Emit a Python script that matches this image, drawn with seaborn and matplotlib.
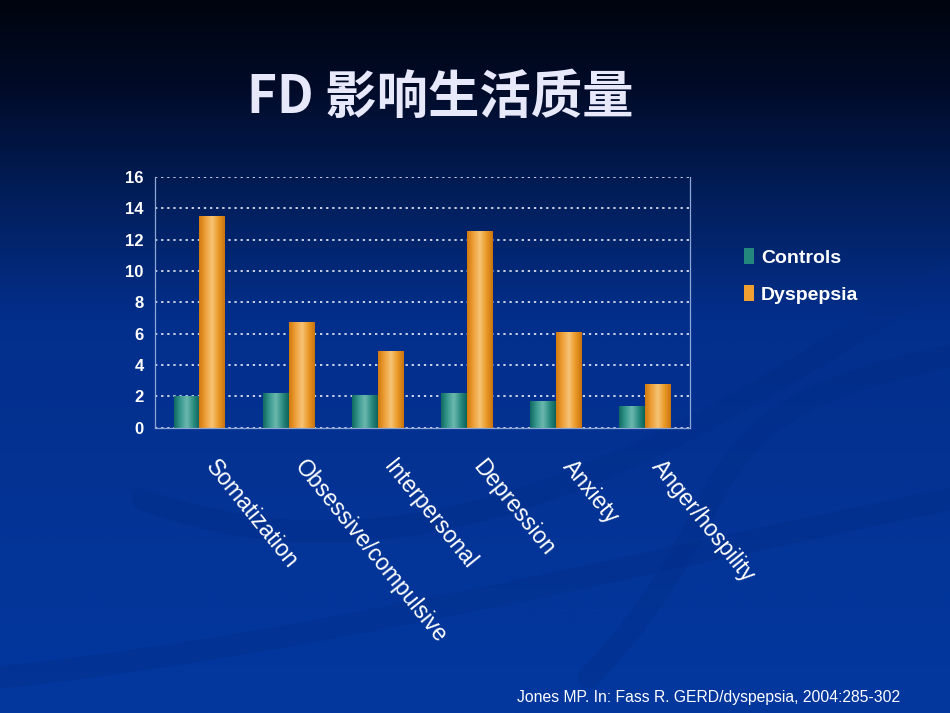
import numpy as np
import pandas as pd
import matplotlib
matplotlib.use("Agg")
import matplotlib.pyplot as plt
import matplotlib.transforms as mtrans
from matplotlib.path import Path
from matplotlib.patches import PathPatch
from matplotlib.colors import LinearSegmentedColormap, to_rgb
import seaborn as sns

# ------------------------------------
# Data
# ------------------------------------
categories = ["Somatization", "Obsessive/compulsive", "Interpersonal",
              "Depression", "Anxiety", "Anger/hospility"]
controls = [2.0, 2.2, 2.1, 2.2, 1.7, 1.4]
dyspepsia = [13.5, 6.7, 4.9, 12.5, 6.1, 2.75]
series = ["Controls", "Dyspepsia"]
y_ticks = [0, 2, 4, 6, 8, 10, 12, 14, 16]

title = "FD 影响生活质量"
source = "Jones MP. In: Fass R. GERD/dyspepsia, 2004:285-302"

TEAL = "#23877e"
ORANGE = "#f0a030"

df = pd.DataFrame({
    "category": categories * 2,
    "group": [series[0]] * len(controls) + [series[1]] * len(dyspepsia),
    "value": controls + dyspepsia,
})

sns.set_theme(style="white")
plt.rcParams["font.family"] = ["Liberation Sans", "DejaVu Sans"]

fig = plt.figure(figsize=(9.5, 7.13), dpi=100)

# ------------------------------------
# Slide background: dark-to-blue gradient + faint swooshes
# ------------------------------------
bg = fig.add_axes([0, 0, 1, 1], zorder=-10)
bg_cmap = LinearSegmentedColormap.from_list(
    "bg", [(0, "#00040e"), (0.12, "#010b28"), (0.28, "#021f5c"),
           (0.45, "#032f8c"), (1, "#03389f")])
bg.imshow(np.linspace(0, 1, 256).reshape(-1, 1), aspect="auto", cmap=bg_cmap,
          extent=[0, 1, 0, 1], origin="upper")
swooshes = [
    [(0.0, 0.05), (0.35, 0.10), (0.70, 0.22), (1.0, 0.30)],
    [(0.15, 0.30), (0.45, 0.15), (0.75, 0.40), (1.0, 0.62)],
    [(0.62, 0.05), (0.80, 0.30), (0.70, 0.42), (1.0, 0.50)],
]
for pts in swooshes:
    path = Path(pts, [Path.MOVETO, Path.CURVE4, Path.CURVE4, Path.CURVE4])
    bg.add_patch(PathPatch(path, fill=False, lw=16, color="#022c84", alpha=0.3,
                           capstyle="round"))
bg.set_xlim(0, 1)
bg.set_ylim(0, 1)
bg.axis("off")

# ------------------------------------
# Bar chart
# ------------------------------------
ax = fig.add_axes([0.163, 0.40, 0.563, 0.352])
ax.patch.set_alpha(0)
sns.barplot(data=df, x="category", y="value", hue="group",
            palette=[TEAL, ORANGE], saturation=1, width=0.58,
            edgecolor="none", ax=ax)

# cylinder-like shading on each bar
teal_cmap = LinearSegmentedColormap.from_list(
    "teal", ["#0e6a62", "#3a9a90", "#6cb8ad", "#2d8d83", "#0c625a"])
orange_cmap = LinearSegmentedColormap.from_list(
    "orange", ["#d27a0e", "#eea03a", "#f6c476", "#eb9a28", "#c9740e"])
for p in list(ax.patches):
    w, h = p.get_width(), p.get_height()
    if h <= 0:
        continue
    x0, y0 = p.get_x(), p.get_y()
    fc = np.array(p.get_facecolor()[:3])
    cmap = teal_cmap if np.allclose(fc, to_rgb(TEAL), atol=0.05) else orange_cmap
    ax.imshow(np.linspace(0, 1, 64).reshape(1, -1), cmap=cmap, aspect="auto",
              extent=[x0, x0 + w, y0, y0 + h], zorder=p.get_zorder() + 0.1)

ax.set_xlim(-0.5, len(categories) - 0.5)
ax.set_ylim(0, 16)
ax.set_yticks(y_ticks)
ax.set_xlabel("")
ax.set_ylabel("")

ax.yaxis.grid(True, linestyle=(0, (1.5, 2.5)), color="white", lw=1.1)
ax.set_axisbelow(True)
for side in ["left", "right", "bottom"]:
    ax.spines[side].set_color("#8ea6d6")
    ax.spines[side].set_linewidth(0.9)
ax.spines["top"].set_visible(False)

ax.tick_params(axis="y", length=0, colors="white", labelsize=12, pad=8)
for lab in ax.get_yticklabels():
    lab.set_fontweight("bold")

ax.set_xticks(np.arange(0.5, len(categories) - 0.5), minor=True)
ax.tick_params(axis="x", which="minor", direction="in", length=5,
               color="#8ea6d6", width=0.9)
ax.set_xticks(range(len(categories)))
ax.set_xticklabels(categories, rotation=-51, ha="left", va="top",
                   rotation_mode="anchor", color="white", fontsize=16.5)
ax.tick_params(axis="x", which="major", length=0, pad=20)
offset = mtrans.ScaledTranslation(14 / 72, 0, fig.dpi_scale_trans)
for lab in ax.get_xticklabels():
    lab.set_transform(lab.get_transform() + offset)

# legend to the right of the plot
handles, labels = ax.get_legend_handles_labels()
ax.get_legend().remove()
leg = ax.legend(handles, labels, loc="upper left", bbox_to_anchor=(0.765, 0.677),
                bbox_transform=fig.transFigure, frameon=False,
                handlelength=0.5, handleheight=0.9, handletextpad=0.35,
                labelspacing=0.95,
                prop={"weight": "bold", "size": 14})
for t in leg.get_texts():
    t.set_color("white")

# ------------------------------------
# Title and source
# ------------------------------------
fig.text(0.463, 0.864, title, ha="center", va="center", fontsize=37,
         fontweight="bold", color="#e8e8fb",
         family=["Noto Sans CJK SC", "DejaVu Sans"])
fig.text(0.544, 0.022, source, ha="left", va="center", fontsize=11.3,
         color="white")

fig.savefig("out.png", dpi=100)
